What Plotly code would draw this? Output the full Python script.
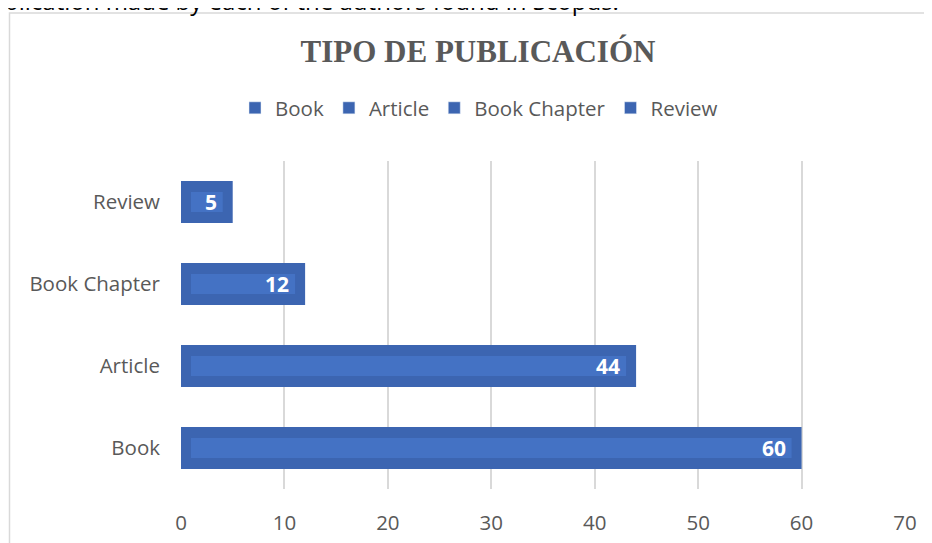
import plotly.graph_objects as go

# data
categories = ["Book", "Article", "Book Chapter", "Review"]
counts = [60, 44, 12, 5]
x_ticks = [0, 10, 20, 30, 40, 50, 60, 70]

title_text = "TIPO DE PUBLICACIÓN"
caption_text = "blication made by each of the authors found in Scopus."

# page has an 8px body margin, so the figure sits at (8, 8) in the window
OFF = 8
W, H = 932 - OFF, 543 - OFF
# plot area in page pixels: x 181..905, y 161..489
L, R, T, B = 181 - OFF, 932 - 905, 161 - OFF, 543 - 489
plot_w = W - L - R
plot_h = H - T - B

OUTER = "#3C65B1"
INNER = "#4472C4"
GREY_TXT = "#595959"
GRID = "#D9D9D9"
FONT = "Open Sans"


def px_x(px):
    """page pixel column -> paper x"""
    return (px - OFF - L) / plot_w


def px_y(py):
    """page pixel row -> paper y"""
    return (H - B - (py - OFF)) / plot_h


# inner highlight inset: 10 px in data units
inset = 10 * 70 / plot_w

fig = go.Figure()

# outer bars
fig.add_trace(
    go.Bar(
        x=counts,
        y=categories,
        orientation="h",
        width=0.51,
        marker=dict(color=OUTER, line=dict(width=0)),
        showlegend=False,
        hoverinfo="skip",
    )
)

# lighter inner strip
fig.add_trace(
    go.Bar(
        x=[v - 2 * inset for v in counts],
        base=[inset] * len(counts),
        y=categories,
        orientation="h",
        width=0.245,
        marker=dict(color=INNER, line=dict(width=0)),
        showlegend=False,
        hoverinfo="skip",
    )
)

# legend entries (one per category, same colour)
for cat in categories:
    fig.add_trace(
        go.Bar(
            x=[None],
            y=[None],
            orientation="h",
            name=cat,
            marker=dict(color=OUTER),
        )
    )

# value labels
for cat, v in zip(categories, counts):
    fig.add_annotation(
        x=v, y=cat,
        xref="x", yref="y",
        text=f"<b>{v}</b>",
        showarrow=False,
        xanchor="right",
        xshift=-14,
        font=dict(family=FONT, size=21, color="white"),
    )

# caption cut off at the top of the page
fig.add_annotation(
    x=px_x(2), y=px_y(19),
    xref="paper", yref="paper",
    text=caption_text,
    showarrow=False,
    xanchor="left", yanchor="bottom",
    font=dict(family=FONT, size=24, color="black"),
)

# chart frame (left and top edges visible)
fig.add_shape(
    type="rect",
    xref="paper", yref="paper",
    x0=px_x(9.5), x1=px_x(960),
    y0=px_y(600), y1=px_y(13),
    line=dict(color=GRID, width=1.5),
    fillcolor="rgba(0,0,0,0)",
    layer="below",
)

fig.update_layout(
    width=W,
    height=H,
    margin=dict(l=L, r=R, t=T, b=B, autoexpand=False),
    paper_bgcolor="white",
    plot_bgcolor="white",
    barmode="overlay",
    title=dict(
        text=f"<b>{title_text}</b>",
        font=dict(family="Liberation Serif", size=31, color=GREY_TXT),
        xref="container", yref="container",
        x=(478 - OFF) / W, xanchor="center",
        y=1 - (51 - OFF) / H, yanchor="middle",
    ),
    legend=dict(
        orientation="h",
        x=px_x(479), xanchor="center",
        y=px_y(108), yanchor="middle",
        font=dict(family=FONT, size=20.5, color=GREY_TXT),
        bgcolor="rgba(0,0,0,0)",
    ),
    font=dict(family=FONT, size=20.5, color=GREY_TXT),
)

fig.update_xaxes(
    range=[0, 70],
    tickvals=x_ticks,
    showgrid=True,
    gridcolor=GRID,
    gridwidth=1.5,
    zeroline=False,
    showline=False,
    ticks="",
    ticklabelstandoff=19,
    tickfont=dict(family=FONT, size=20.5, color=GREY_TXT),
)

fig.update_yaxes(
    categoryorder="array",
    categoryarray=categories,
    showgrid=False,
    zeroline=False,
    showline=False,
    ticks="",
    ticklabelstandoff=20,
    tickfont=dict(family=FONT, size=20.5, color=GREY_TXT),
)

fig.write_html("out.html")
